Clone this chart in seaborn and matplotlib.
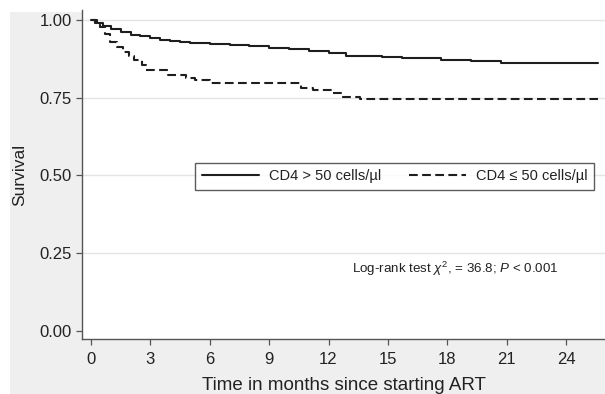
import matplotlib
matplotlib.use("Agg")
import matplotlib.pyplot as plt
from matplotlib.patches import Rectangle
import seaborn as sns
import pandas as pd

# ---- data ----
t_high = [0, 0.3, 0.6, 1.0, 1.5, 2.0, 2.5, 3.0, 3.5, 4.0, 4.5, 5.0, 6.0, 7.0, 8.0,
          9.0, 10.0, 11.0, 12.0, 12.9, 14.7, 15.7, 17.7, 19.2, 20.7, 25.6]
s_high = [1.0, 0.99, 0.98, 0.97, 0.961, 0.953, 0.947, 0.942, 0.936, 0.931, 0.928,
          0.926, 0.923, 0.919, 0.915, 0.911, 0.905, 0.899, 0.892, 0.884, 0.880,
          0.876, 0.871, 0.867, 0.861, 0.861]

t_low = [0, 0.2, 0.45, 0.7, 0.95, 1.3, 1.6, 1.9, 2.2, 2.6, 2.8, 3.9, 4.8, 5.25,
         6.0, 10.6, 11.2, 12.2, 12.7, 13.6, 25.6]
s_low = [1.0, 0.99, 0.978, 0.955, 0.93, 0.912, 0.898, 0.885, 0.871, 0.855, 0.839,
         0.823, 0.814, 0.806, 0.796, 0.780, 0.774, 0.765, 0.753, 0.744, 0.744]

label_high = "CD4 > 50 cells/µl"
label_low = "CD4 ≤ 50 cells/µl"
x_ticks = [0, 3, 6, 9, 12, 15, 18, 21, 24]
y_ticks = [0.00, 0.25, 0.50, 0.75, 1.00]
x_label = "Time in months since starting ART"
y_label = "Survival"
annot = r"Log-rank test $\chi^2$, = 36.8; $P$ < 0.001"

df_high = pd.DataFrame({"time": t_high, "surv": s_high})
df_low = pd.DataFrame({"time": t_low, "surv": s_low})

sns.set_style("white")
plt.rcParams["font.family"] = ["Liberation Sans", "DejaVu Sans"]
plt.rcParams["mathtext.fontset"] = "custom"
plt.rcParams["mathtext.rm"] = "Liberation Sans"
plt.rcParams["mathtext.it"] = "Liberation Sans:italic"

bg = "#efefef"
fig = plt.figure(figsize=(6.05, 3.94), dpi=100, facecolor=bg)
# white margins on top/left as in the reference scan
fig.add_artist(Rectangle((0, 0), 10 / 605, 1, transform=fig.transFigure,
                         facecolor="white", edgecolor="none", zorder=-1))
fig.add_artist(Rectangle((0, 1 - 12 / 394), 1, 12 / 394, transform=fig.transFigure,
                         facecolor="white", edgecolor="none", zorder=-1))

ax = fig.add_axes([82 / 605, 1 - 339 / 394, 1 - 82 / 605, (339 - 10) / 394])
ax.set_facecolor("white")

line_col = "#1e1e1e"
sns.lineplot(data=df_high, x="time", y="surv", ax=ax, drawstyle="steps-post",
             color=line_col, linewidth=1.5, label=label_high)
sns.lineplot(data=df_low, x="time", y="surv", ax=ax, drawstyle="steps-post",
             color=line_col, linewidth=1.5, linestyle=(0, (4.2, 2.1)), label=label_low)

ax.set_xlim(-0.45, 25.96)
ax.set_ylim(-0.027, 1.032)
ax.set_xticks(x_ticks)
ax.set_xticklabels([str(v) for v in x_ticks])
ax.set_yticks(y_ticks)
ax.set_yticklabels([f"{v:.2f}" for v in y_ticks])

for y in y_ticks[1:]:
    ax.axhline(y, color="#e4e4e4", linewidth=1.0, zorder=0)

for s in ["top", "right"]:
    ax.spines[s].set_visible(False)
for s in ["left", "bottom"]:
    ax.spines[s].set_color("#555555")
    ax.spines[s].set_linewidth(1.0)

ax.tick_params(axis="both", which="major", direction="out", length=4.5, width=0.9,
               color="#555555", labelsize=12, labelcolor="#222222",
               bottom=True, left=True)
ax.tick_params(axis="x", pad=5)
ax.tick_params(axis="y", pad=3)

ax.set_xlabel(x_label, fontsize=13.5, color="#222222", labelpad=7)
ax.set_ylabel(y_label, fontsize=12.5, color="#222222", labelpad=9)

leg = ax.legend(loc="center", bbox_to_anchor=(0.598, 0.494), ncol=2, fontsize=10.5,
                frameon=True, fancybox=False, handlelength=3.9, handletextpad=0.7,
                columnspacing=1.9, borderpad=0.45, borderaxespad=0)
leg.get_frame().set_edgecolor("#333333")
leg.get_frame().set_linewidth(1.0)
for txt in leg.get_texts():
    txt.set_color("#222222")

ax.text(13.2, 0.2, annot, fontsize=9.6, color="#222222", ha="left", va="center")

fig.savefig("out.png", dpi=100, facecolor=bg)
